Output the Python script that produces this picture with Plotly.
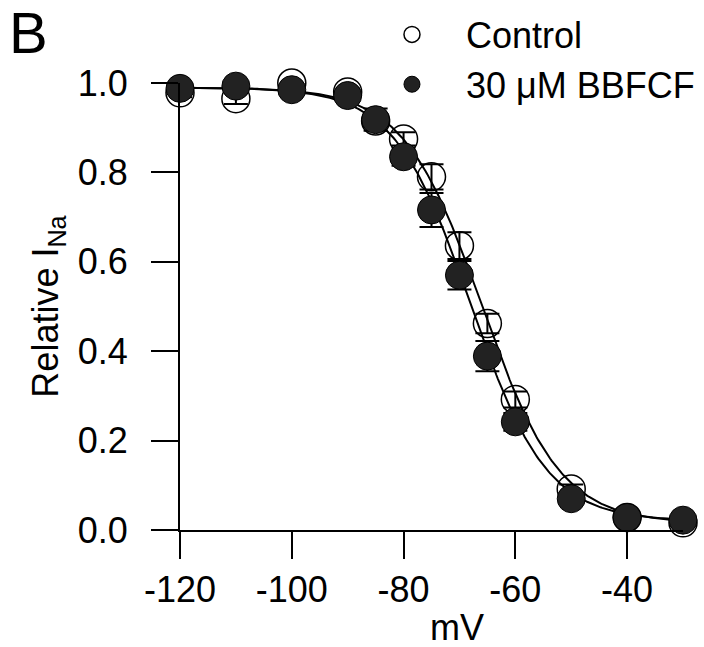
import numpy as np
import plotly.graph_objects as go

# ---- data ----
voltages = [-120, -110, -100, -90, -85, -80, -75, -70, -65, -60, -50, -40, -30]
control = [0.978, 0.965, 1.0, 0.98, 0.915, 0.875, 0.79, 0.636, 0.462, 0.292, 0.092, 0.028, 0.016]
control_sem = [0.010, 0.012, 0.008, 0.008, 0.010, 0.015, 0.028, 0.030, 0.022, 0.018, 0.010, 0.006, 0.006]
bbfcf = [0.988, 0.993, 0.985, 0.972, 0.918, 0.835, 0.716, 0.570, 0.389, 0.242, 0.070, 0.028, 0.022]
bbfcf_sem = [0.008, 0.008, 0.006, 0.010, 0.025, 0.020, 0.038, 0.032, 0.034, 0.020, 0.010, 0.005, 0.005]

# Boltzmann fit parameters (V1/2, slope k, top, bottom)
control_fit = dict(vhalf=-66.0, k=7.0, top=0.99, bottom=0.015)
bbfcf_fit = dict(vhalf=-68.0, k=6.8, top=0.99, bottom=0.02)

x_ticks = [-120, -100, -80, -60, -40]
y_ticks = [0.0, 0.2, 0.4, 0.6, 0.8, 1.0]
y_tick_labels = ["0.0", "0.2", "0.4", "0.6", "0.8", "1.0"]


def boltzmann(v, p):
    v = np.asarray(v, dtype=float)
    return p["bottom"] + (p["top"] - p["bottom"]) / (1.0 + np.exp((v - p["vhalf"]) / p["k"]))


vgrid = np.linspace(-120, -30, 300)
FONT = "Liberation Sans, Arial, sans-serif"

fig = go.Figure()
for p in (control_fit, bbfcf_fit):
    fig.add_trace(go.Scatter(x=vgrid, y=boltzmann(vgrid, p), mode="lines",
                             line=dict(color="black", width=2), showlegend=False,
                             hoverinfo="skip", cliponaxis=False))

fig.add_trace(go.Scatter(
    x=voltages, y=control, mode="markers", name="Control",
    marker=dict(symbol="circle-open", size=28, color="black", line=dict(width=1.5, color="black")),
    error_y=dict(type="data", array=control_sem, color="black", thickness=2, width=12),
    cliponaxis=False))

fig.add_trace(go.Scatter(
    x=voltages, y=bbfcf, mode="markers", name="30 \u03bcM BBFCF",
    marker=dict(symbol="circle", size=28, color="#222222", line=dict(width=1, color="black")),
    error_y=dict(type="data", array=bbfcf_sem, color="black", thickness=2, width=12),
    cliponaxis=False))

fig.update_layout(
    width=704, height=647,
    margin=dict(l=180, r=21, t=83, b=117, autoexpand=False),
    paper_bgcolor="white", plot_bgcolor="white",
    font=dict(family=FONT, size=36, color="black"),
    legend=dict(xref="container", yref="container", x=0.5085, y=0.993,
                xanchor="left", yanchor="top",
                bgcolor="rgba(0,0,0,0)", itemwidth=98, itemsizing="trace",
                font=dict(size=36), tracegroupgap=0),
    xaxis=dict(range=[-120, -30], tickvals=x_ticks, ticktext=[str(t) for t in x_ticks],
               showline=True, linecolor="black", linewidth=2, ticks="outside",
               ticklen=27, tickwidth=2, tickcolor="black", showgrid=False, zeroline=False,
               ticklabelstandoff=0, tickfont=dict(size=36), automargin=False),
    yaxis=dict(range=[0, 1.0], tickvals=y_ticks, ticktext=y_tick_labels,
               showline=True, linecolor="black", linewidth=2, ticks="outside",
               ticklen=27, tickwidth=2, tickcolor="black", showgrid=False, zeroline=False,
               ticklabelstandoff=16, tickfont=dict(size=36), automargin=False,
               title=dict(text="Relative I<sub>Na</sub>", standoff=8, font=dict(size=36))),
    annotations=[
        dict(text="mV", xref="x", yref="paper", x=-70.5, y=0, yanchor="top",
             yshift=-75, showarrow=False, font=dict(size=36)),
        dict(text="B", xref="paper", yref="paper", x=0, y=1, xanchor="left", yanchor="top",
             xshift=-172, yshift=84, borderpad=0, showarrow=False, font=dict(size=58)),
    ],
)

fig.write_html("out.html", config={"displayModeBar": False},
               post_script="document.body.style.margin='0';")
